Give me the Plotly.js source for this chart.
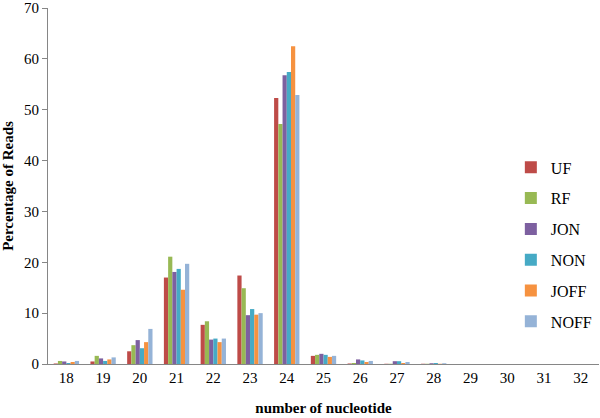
<!DOCTYPE html>
<html>
<head>
<meta charset="utf-8">
<script src="https://cdn.plot.ly/plotly-3.0.1.min.js"></script>
<style>html,body{margin:0;padding:0;background:#fff;}#chart{width:600px;height:418px;}</style>
</head>
<body>
<div id="chart"></div>
<script>
const categories = ['18','19','20','21','22','23','24','25','26','27','28','29','30','31','32'];
const seriesNames = ['UF','RF','JON','NON','JOFF','NOFF'];
const UF   = [0.1, 0.5, 2.5, 17.0, 7.7, 17.4, 52.3, 1.6, 0.1, 0.05, 0.05, 0, 0, 0, 0];
const RF   = [0.6, 1.6, 3.7, 21.1, 8.4, 14.9, 47.2, 1.8, 0.2, 0.05, 0.05, 0, 0, 0, 0];
const JON  = [0.5, 1.1, 4.7, 18.1, 4.8, 9.6, 56.8, 2.0, 0.9, 0.55, 0.15, 0, 0, 0, 0];
const NON  = [0.2, 0.6, 3.1, 18.7, 5.0, 10.8, 57.4, 1.8, 0.7, 0.55, 0.2, 0, 0, 0, 0];
const JOFF = [0.4, 0.9, 4.3, 14.6, 4.3, 9.7, 62.5, 1.4, 0.4, 0.2, 0.05, 0, 0, 0, 0];
const NOFF = [0.6, 1.3, 6.9, 19.7, 5.0, 10.0, 52.9, 1.6, 0.6, 0.4, 0.15, 0, 0, 0, 0];
const colors = ['#BE4B48', '#98B954', '#7D60A0', '#46AAC5', '#F69240', '#95B3D7'];
const allSeries = [UF, RF, JON, NON, JOFF, NOFF];

const traces = allSeries.map((vals, i) => ({
  type: 'bar',
  name: seriesNames[i],
  x: categories,
  y: vals,
  marker: {color: colors[i]},
  legendgroup: 'g' + i
}));

const fontFam = '"Liberation Serif", "Times New Roman", serif';
const layout = {
  width: 600, height: 418,
  margin: {l: 48, r: 1, t: 8, b: 54},
  paper_bgcolor: '#fff', plot_bgcolor: '#fff',
  barmode: 'group', bargap: 0.31, bargroupgap: 0,
  font: {family: fontFam, size: 15, color: '#000'},
  showlegend: true,
  legend: {x: 0.84, y: 0.60, xanchor: 'left', yanchor: 'top',
           traceorder: 'grouped', tracegroupgap: 7,
           font: {family: fontFam, size: 16, color: '#000'},
           bgcolor: 'rgba(0,0,0,0)'},
  xaxis: {
    type: 'category',
    showline: true, linecolor: '#868686', linewidth: 1,
    ticks: '', showgrid: false, zeroline: false,
    tickfont: {family: fontFam, size: 15},
    title: {text: '<b>number of nucleotide</b>', font: {family: fontFam, size: 15}, standoff: 17}
  },
  yaxis: {
    range: [0, 70], dtick: 10,
    showline: true, linecolor: '#868686', linewidth: 1,
    ticks: 'outside', ticklen: 5, tickcolor: '#868686',
    showgrid: false, zeroline: false,
    tickfont: {family: fontFam, size: 15},
    title: {text: '<b>Percentage of Reads</b>', font: {family: fontFam, size: 15}, standoff: 8}
  }
};
Plotly.newPlot('chart', traces, layout, {displayModeBar: false, staticPlot: true});
</script>
</body>
</html>
